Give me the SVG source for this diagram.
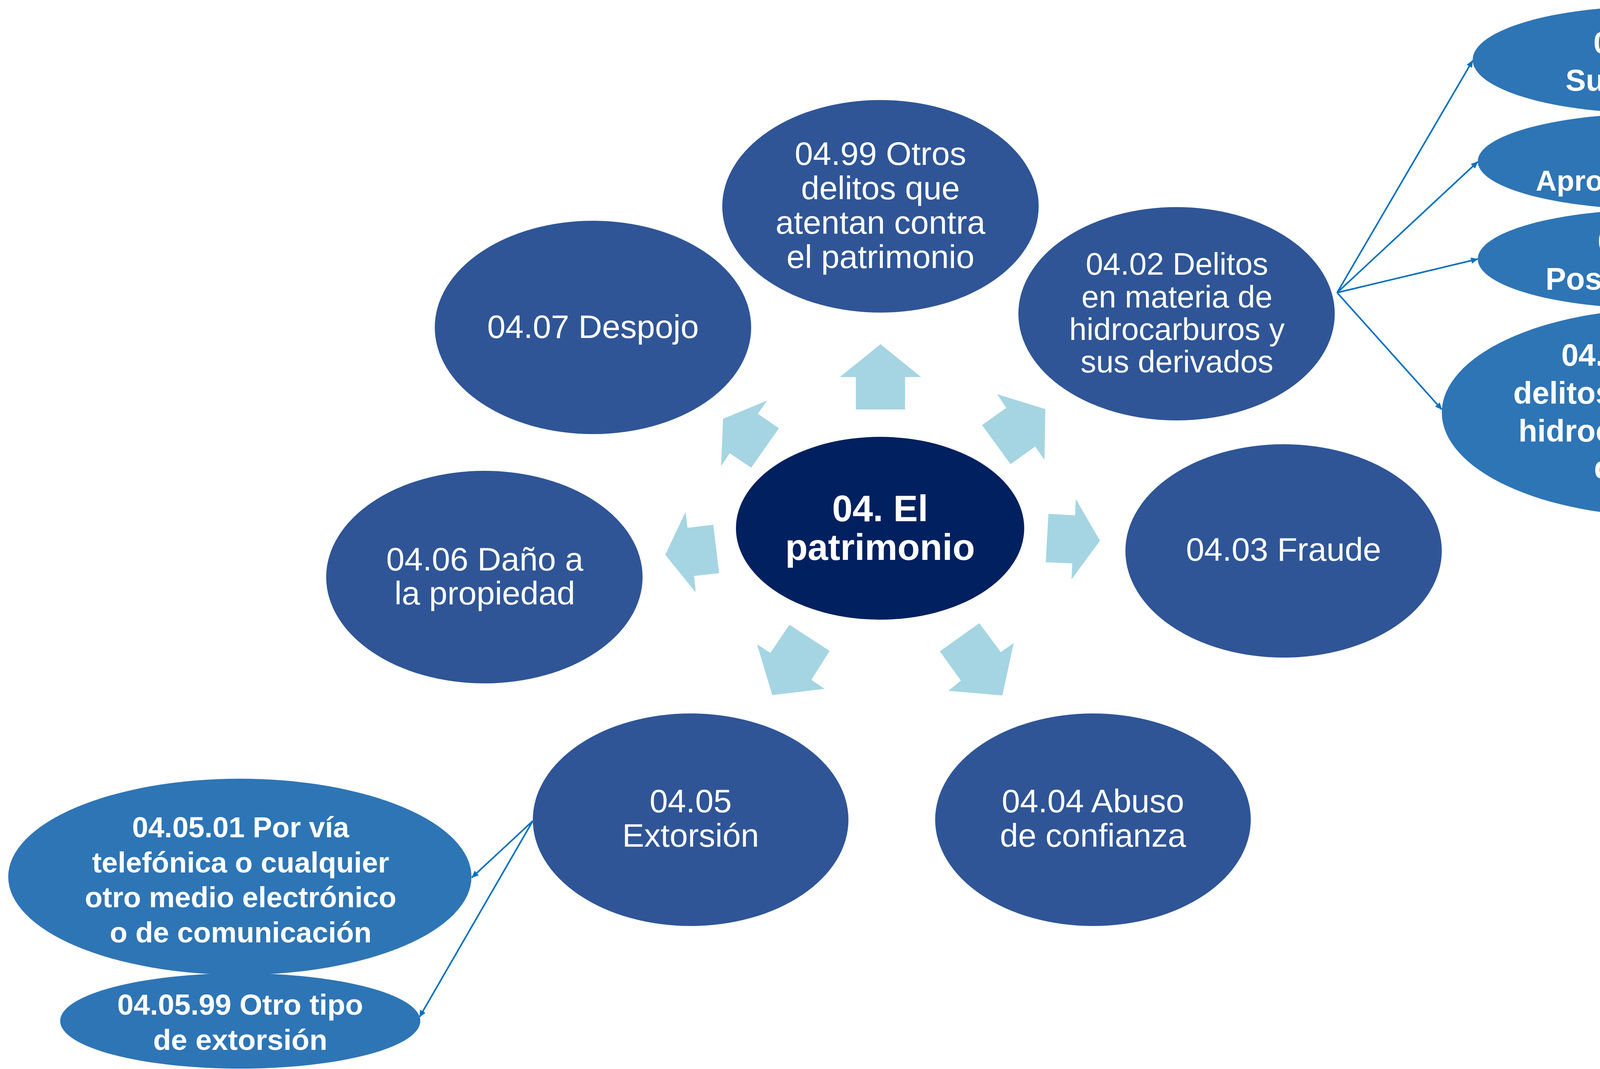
<svg xmlns="http://www.w3.org/2000/svg" width="4880" height="2736" viewBox="0 0 4880 2736">
<style>
.main{fill:#2F5597}
.center{fill:#002060}
.sub{fill:#2E75B6}
.arr{fill:#A5D5E2}
.t{font-family:"Liberation Sans",Arial,sans-serif;fill:#FFFFFF;text-anchor:middle}
.tr{font-size:84px}
.tb{font-weight:bold}
.con{stroke:#0070C0;stroke-width:4;fill:none;marker-end:url(#ah)}
</style>
<defs>
<marker id="ah" markerUnits="userSpaceOnUse" markerWidth="18" markerHeight="16" viewBox="0 0 18 16" refX="17" refY="8" orient="auto">
<path d="M0,0 L18,8 L0,16 Z" fill="#0070C0"/>
</marker>
</defs>
<rect width="4880" height="2736" fill="#FFFFFF"/>

<g id="arrows">
<polygon class="arr" points="2254,881 2358,965 2317,965 2317,1048 2191,1048 2191,965 2150,965"/>
<polygon class="arr" points="2676,1047 2674,1177 2650,1143 2587,1188 2514,1088 2576,1044 2553,1009"/>
<polygon class="arr" points="2816,1384 2743,1483 2745,1442 2677,1439 2684,1315 2752,1319 2754,1277"/>
<polygon class="arr" points="2566,1780 2428,1768 2460,1742 2406,1667 2507,1595 2562,1669 2595,1646"/>
<polygon class="arr" points="1977,1779 1938,1649 1972,1671 2021,1599 2124,1666 2077,1740 2111,1763"/>
<polygon class="arr" points="1703,1420 1755,1310 1760,1351 1826,1343 1841,1467 1777,1474 1781,1516"/>
<polygon class="arr" points="1851,1072 1964,1025 1940,1059 1994,1096 1923,1197 1868,1160 1846,1193"/>
</g>

<g id="n04">
<ellipse class="center" cx="2253" cy="1352" rx="369" ry="234"/>
<text class="t tb" font-size="94"><tspan x="2253" y="1334">04. El</tspan><tspan x="2253" y="1433">patrimonio</tspan></text>
</g>

<g id="n0499">
<ellipse class="main" cx="2254" cy="528" rx="405" ry="272"/>
<text class="t tr"><tspan x="2254" y="422">04.99 Otros</tspan><tspan x="2254" y="510">delitos que</tspan><tspan x="2254" y="598">atentan contra</tspan><tspan x="2254" y="686">el patrimonio</tspan></text>
</g>

<g id="n0407">
<ellipse class="main" cx="1518" cy="838" rx="405" ry="273"/>
<text class="t tr" x="1518" y="865">04.07 Despojo</text>
</g>

<g id="n0402">
<ellipse class="main" cx="3012" cy="803" rx="405" ry="273"/>
<text class="t" font-size="80"><tspan x="3013" y="703">04.02 Delitos</tspan><tspan x="3013" y="787">en materia de</tspan><tspan x="3013" y="870">hidrocarburos y</tspan><tspan x="3013" y="953">sus derivados</tspan></text>
</g>

<g id="n0403">
<ellipse class="main" cx="3286" cy="1410" rx="405" ry="273"/>
<text class="t tr" x="3286" y="1435">04.03 Fraude</text>
</g>

<g id="n0404">
<ellipse class="main" cx="2798" cy="2098" rx="404" ry="272"/>
<text class="t tr"><tspan x="2798" y="2079">04.04 Abuso</tspan><tspan x="2798" y="2167">de confianza</tspan></text>
</g>

<g id="n0405">
<ellipse class="main" cx="1768" cy="2098" rx="404" ry="272"/>
<text class="t tr"><tspan x="1768" y="2079">04.05</tspan><tspan x="1768" y="2167">Extorsión</tspan></text>
</g>

<g id="n0406">
<ellipse class="main" cx="1240" cy="1477" rx="405" ry="272"/>
<text class="t tr"><tspan x="1241" y="1460">04.06 Daño a</tspan><tspan x="1241" y="1547">la propiedad</tspan></text>
</g>

<g id="n040201">
<ellipse class="sub" cx="4231" cy="153" rx="461" ry="137"/>
<text class="t tb" font-size="78"><tspan x="4231" y="136">04.02.01</tspan><tspan x="4231" y="232">Sustracción</tspan></text>
</g>

<g id="n040202">
<ellipse class="sub" cx="4243" cy="413" rx="460" ry="123"/>
<text class="t tb" font-size="74"><tspan x="4244" y="397">04.02.02</tspan><tspan x="4244" y="488">Aprovechamiento</tspan></text>
</g>

<g id="n040203">
<ellipse class="sub" cx="4243" cy="663" rx="460" ry="127"/>
<text class="t tb" font-size="79"><tspan x="4244" y="645">04.02.03</tspan><tspan x="4244" y="741">Posesión ilícita</tspan></text>
</g>

<g id="n040299">
<ellipse class="sub" cx="4265" cy="1056" rx="574" ry="266"/>
<text class="t tb" font-size="79"><tspan x="4267" y="936">04.02.99 Otros</tspan><tspan x="4267" y="1033">delitos en materia de</tspan><tspan x="4267" y="1130">hidrocarburos y sus</tspan><tspan x="4267" y="1224">derivados</tspan></text>
</g>

<g id="n040501">
<ellipse class="sub" cx="614" cy="2244" rx="593" ry="251"/>
<text class="t tb" font-size="74"><tspan x="616" y="2143">04.05.01 Por vía</tspan><tspan x="616" y="2233">telefónica o cualquier</tspan><tspan x="616" y="2322">otro medio electrónico</tspan><tspan x="616" y="2412">o de comunicación</tspan></text>
</g>

<g id="n040599">
<ellipse class="sub" cx="615" cy="2613" rx="461" ry="122"/>
<text class="t tb" font-size="75"><tspan x="615" y="2597">04.05.99 Otro tipo</tspan><tspan x="615" y="2687">de extorsión</tspan></text>
</g>

<g id="connectors">
<line class="con" x1="3423" y1="749" x2="3770" y2="155"/>
<line class="con" x1="3423" y1="749" x2="3783" y2="414"/>
<line class="con" x1="3423" y1="749" x2="3783" y2="663"/>
<line class="con" x1="3423" y1="749" x2="3691" y2="1048"/>
<line class="con" x1="1364" y1="2101" x2="1208" y2="2246"/>
<line class="con" x1="1364" y1="2101" x2="1074" y2="2603"/>
</g>
</svg>
